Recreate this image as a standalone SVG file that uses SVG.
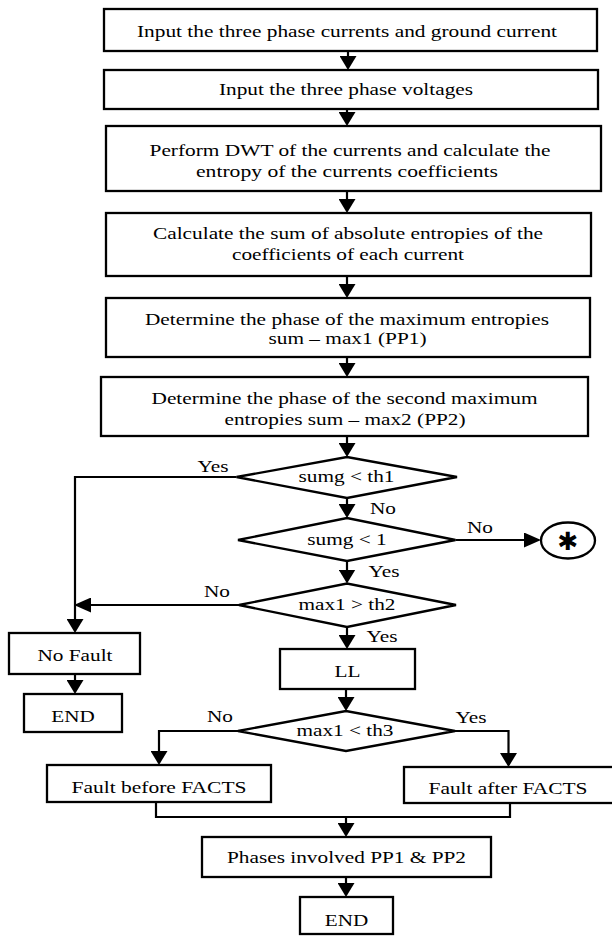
<svg xmlns="http://www.w3.org/2000/svg" width="612" height="936" viewBox="0 0 612 936">
<style>
  .box { fill: #ffffff; stroke: #000000; stroke-width: 2.3; }
  .ln { fill: none; stroke: #000000; stroke-width: 2.2; }
  .t { font-family: "Liberation Serif", "Times New Roman", serif; font-size: 17px; fill: #000000; text-anchor: middle; }
  .lbl { font-family: "Liberation Serif", "Times New Roman", serif; font-size: 17px; fill: #000000; text-anchor: middle; }
</style>
<defs>
  <marker id="arrV" viewBox="0 0 14 17" refX="12" refY="8.5" markerWidth="14" markerHeight="17" markerUnits="userSpaceOnUse" orient="auto">
    <path d="M0,0 L14,8.5 L0,17 Z" fill="#000000"/>
  </marker>
  <marker id="arrH" viewBox="0 0 17 15" refX="15" refY="7.5" markerWidth="17" markerHeight="15" markerUnits="userSpaceOnUse" orient="auto">
    <path d="M0,0 L17,7.5 L0,15 Z" fill="#000000"/>
  </marker>
</defs>
<rect width="612" height="936" fill="#ffffff"/>

<g id="connectors">
  <path class="ln" d="M348,51 V68" marker-end="url(#arrV)"/>
  <path class="ln" d="M347,109 V124" marker-end="url(#arrV)"/>
  <path class="ln" d="M347,191 V211" marker-end="url(#arrV)"/>
  <path class="ln" d="M347,276 V296" marker-end="url(#arrV)"/>
  <path class="ln" d="M347,357 V375" marker-end="url(#arrV)"/>
  <path class="ln" d="M347,436 V455" marker-end="url(#arrV)"/>
  <path class="ln" d="M347,498 V516" marker-end="url(#arrV)"/>
  <path class="ln" d="M236.5,477 H75 V631" marker-end="url(#arrV)"/>
  <path class="ln" d="M455.5,540 H539" marker-end="url(#arrH)"/>
  <path class="ln" d="M347,561 V581.5" marker-end="url(#arrV)"/>
  <path class="ln" d="M239,605 H76" marker-end="url(#arrH)"/>
  <path class="ln" d="M347,627 V647" marker-end="url(#arrV)"/>
  <path class="ln" d="M75,674 V692" marker-end="url(#arrV)"/>
  <path class="ln" d="M346,689 V709" marker-end="url(#arrV)"/>
  <path class="ln" d="M238,731 H159 V763" marker-end="url(#arrV)"/>
  <path class="ln" d="M455,731 H508.5 V765" marker-end="url(#arrV)"/>
  <path class="ln" d="M156,802 V817 H510 V803"/>
  <path class="ln" d="M346,817 V835" marker-end="url(#arrV)"/>
  <path class="ln" d="M346,877 V895" marker-end="url(#arrV)"/>
  <text class="lbl" x="213" y="472" textLength="31" lengthAdjust="spacingAndGlyphs">Yes</text>
  <text class="lbl" x="383" y="514" textLength="26" lengthAdjust="spacingAndGlyphs">No</text>
  <text class="lbl" x="480" y="533" textLength="26" lengthAdjust="spacingAndGlyphs">No</text>
  <text class="lbl" x="384" y="577" textLength="31" lengthAdjust="spacingAndGlyphs">Yes</text>
  <text class="lbl" x="217" y="597" textLength="26" lengthAdjust="spacingAndGlyphs">No</text>
  <text class="lbl" x="382" y="642" textLength="31" lengthAdjust="spacingAndGlyphs">Yes</text>
  <text class="lbl" x="220" y="722" textLength="26" lengthAdjust="spacingAndGlyphs">No</text>
  <text class="lbl" x="471" y="723" textLength="31" lengthAdjust="spacingAndGlyphs">Yes</text>
</g>

<g id="n1">
  <rect class="box" x="104" y="9" width="493" height="42"/>
  <text class="t" x="347" y="37" textLength="420" lengthAdjust="spacingAndGlyphs">Input the three phase currents and ground current</text>
</g>
<g id="n2">
  <rect class="box" x="104" y="70" width="494" height="39"/>
  <text class="t" x="346" y="95" textLength="254" lengthAdjust="spacingAndGlyphs">Input the three phase voltages</text>
</g>
<g id="n3">
  <rect class="box" x="106" y="126" width="495" height="65"/>
  <text class="t" x="350" y="156" textLength="401" lengthAdjust="spacingAndGlyphs">Perform DWT of the currents and calculate the</text>
  <text class="t" x="347" y="177" textLength="302" lengthAdjust="spacingAndGlyphs">entropy of the currents coefficients</text>
</g>
<g id="n4">
  <rect class="box" x="106" y="213" width="485" height="63"/>
  <text class="t" x="348" y="239" textLength="390" lengthAdjust="spacingAndGlyphs">Calculate the sum of absolute entropies of the</text>
  <text class="t" x="348" y="260" textLength="232" lengthAdjust="spacingAndGlyphs">coefficients of each current</text>
</g>
<g id="n5">
  <rect class="box" x="106" y="298" width="484" height="59"/>
  <text class="t" x="347" y="325" textLength="404" lengthAdjust="spacingAndGlyphs">Determine the phase of the maximum entropies</text>
  <text class="t" x="347.5" y="344" textLength="158" lengthAdjust="spacingAndGlyphs">sum – max1 (PP1)</text>
</g>
<g id="n6">
  <rect class="box" x="101" y="377" width="487" height="59"/>
  <text class="t" x="344.5" y="404" textLength="386" lengthAdjust="spacingAndGlyphs">Determine the phase of the second maximum</text>
  <text class="t" x="345" y="425" textLength="241" lengthAdjust="spacingAndGlyphs">entropies sum – max2 (PP2)</text>
</g>
<g id="d1">
  <polygon class="box" points="236.5,477 347,457 457,477 347,498"/>
  <text class="t" x="346.5" y="482" textLength="96" lengthAdjust="spacingAndGlyphs">sumg &lt; th1</text>
</g>
<g id="d2">
  <polygon class="box" points="238,540 347,518 455.5,540 347,561"/>
  <text class="t" x="347" y="545" textLength="79.5" lengthAdjust="spacingAndGlyphs">sumg &lt; 1</text>
</g>
<g id="c1">
  <ellipse class="box" cx="568" cy="540.5" rx="27" ry="18"/>
  <text x="568" y="550" font-family="DejaVu Sans, sans-serif" font-size="25" font-weight="bold" text-anchor="middle">✱</text>
</g>
<g id="d3">
  <polygon class="box" points="239,605 347,583.5 456,605 347,627"/>
  <text class="t" x="347" y="610" textLength="97" lengthAdjust="spacingAndGlyphs">max1 &gt; th2</text>
</g>
<g id="n7">
  <rect class="box" x="9" y="633" width="131" height="41"/>
  <text class="t" x="75" y="661" textLength="75" lengthAdjust="spacingAndGlyphs">No Fault</text>
</g>
<g id="n8">
  <rect class="box" x="24" y="694" width="98" height="38"/>
  <text class="t" x="73" y="721.5" textLength="43.5" lengthAdjust="spacingAndGlyphs">END</text>
</g>
<g id="n9">
  <rect class="box" x="280" y="649" width="135" height="40"/>
  <text class="t" x="347.5" y="677" textLength="26" lengthAdjust="spacingAndGlyphs">LL</text>
</g>
<g id="d4">
  <polygon class="box" points="238,731 346,711 455,731 346,751"/>
  <text class="t" x="345" y="735.5" textLength="97" lengthAdjust="spacingAndGlyphs">max1 &lt; th3</text>
</g>
<g id="n10">
  <rect class="box" x="47" y="765" width="224" height="37"/>
  <text class="t" x="159" y="792.5" textLength="175" lengthAdjust="spacingAndGlyphs">Fault before FACTS</text>
</g>
<g id="n11">
  <rect class="box" x="404" y="767" width="210" height="36"/>
  <text class="t" x="508" y="794" textLength="159" lengthAdjust="spacingAndGlyphs">Fault after FACTS</text>
</g>
<g id="n12">
  <rect class="box" x="202" y="837" width="289" height="40"/>
  <text class="t" x="346.5" y="863" textLength="239" lengthAdjust="spacingAndGlyphs">Phases involved PP1 &amp; PP2</text>
</g>
<g id="n13">
  <rect class="box" x="300" y="897" width="93" height="37"/>
  <text class="t" x="346.5" y="926" textLength="43.5" lengthAdjust="spacingAndGlyphs">END</text>
</g>
</svg>
